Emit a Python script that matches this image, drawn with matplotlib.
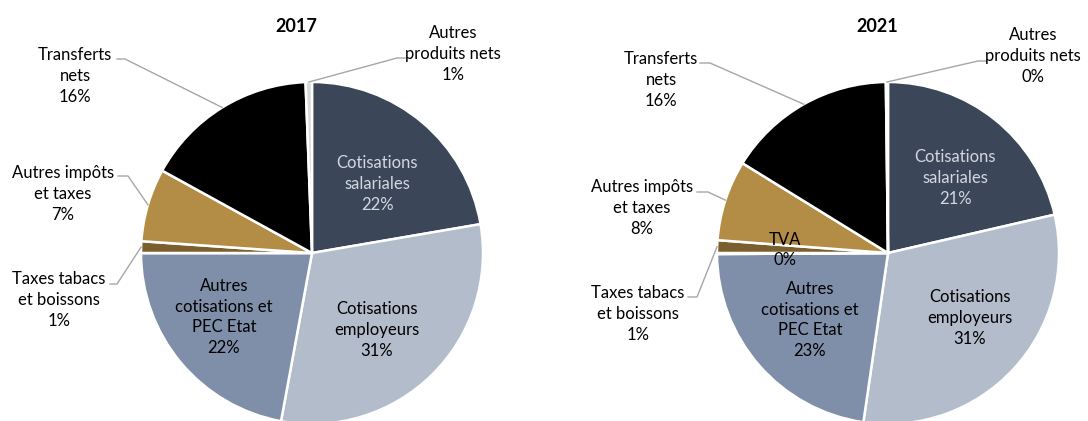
import numpy as np
import matplotlib
matplotlib.use("Agg")
import matplotlib.pyplot as plt

plt.rcParams['font.family'] = ['Lato', 'DejaVu Sans']

# data
categories = ["Cotisations\nsalariales", "Cotisations\nemployeurs",
              "Autres\ncotisations et\nPEC Etat", "TVA",
              "Taxes tabacs\net boissons", "Autres impôts\net taxes",
              "Transferts\nnets", "Autres\nproduits nets"]
values_2017 = [22.3, 30.6, 22.1, 0.0, 1.1, 6.9, 16.4, 0.6]
values_2021 = [21.4, 30.9, 22.6, 0.1, 1.2, 7.6, 16.0, 0.2]
years = ["2017", "2021"]

colors = ["#3C4659", "#B3BCCB", "#7F8FA9", "#5A4A30",
          "#7B5F2F", "#B38C45", "#000000", "#D9D9D9"]
text_colors = ["#D3D8E0"] + ["black"] * 7

W, H = 1088, 421
R = 171

# layout in pixels (x, y from top)
centers = [(312, 253), (888, 253)]
title_pos = [(296, 27), (877, 27)]
# label block centres, None = no label
label_pos = [
    [(377, 184), (377, 330), (224, 317), None, (59, 300), (63, 194), (75, 76), (453, 54)],
    [(955, 178), (970, 318), (810, 320), (785, 250), (638, 314), (642, 208), (661, 80), (1033, 56)],
]
# leader lines: (label end x, elbow x, y) for outside labels
leaders = [
    {4: (110, 117, 284), 5: (118, 128, 176), 6: (117, 125, 59), 7: (405, 397, 58)},
    {4: (688, 697, 297), 5: (697, 708, 192), 6: (700, 710, 63), 7: (986, 978, 61)},
]

fig = plt.figure(figsize=(W / 100, H / 100), dpi=100)

over = fig.add_axes([0, 0, 1, 1], zorder=5)
over.set_xlim(0, W)
over.set_ylim(H, 0)
over.axis("off")

for k, vals in enumerate([values_2017, values_2021]):
    cx, cy = centers[k]
    ax = fig.add_axes([(cx - R) / W, (H - cy - R) / H, 2 * R / W, 2 * R / H])
    wedges, _ = ax.pie(vals, colors=colors, startangle=90, counterclock=False,
                       radius=1, wedgeprops=dict(edgecolor="white", linewidth=1.8))
    ax.set_xlim(-1, 1)
    ax.set_ylim(-1, 1)
    ax.axis("off")

    over.text(title_pos[k][0], title_pos[k][1], years[k], ha="center", va="center",
              fontsize=13, fontweight="bold")

    for i, w in enumerate(wedges):
        pos = label_pos[k][i]
        if pos is None:
            continue
        txt = categories[i] + "\n" + "%d%%" % round(vals[i])
        over.text(pos[0], pos[1], txt, ha="center", va="center", fontsize=12,
                  color=text_colors[i], linespacing=1.35)
        if i in leaders[k]:
            x0, x1, y0 = leaders[k][i]
            mid = np.deg2rad((w.theta1 + w.theta2) / 2)
            ex = cx + R * np.cos(mid)
            ey = cy - R * np.sin(mid)
            over.plot([x0, x1, ex], [y0, y0, ey], color="#A6A6A6", lw=1)

fig.savefig("out.png", dpi=100)
